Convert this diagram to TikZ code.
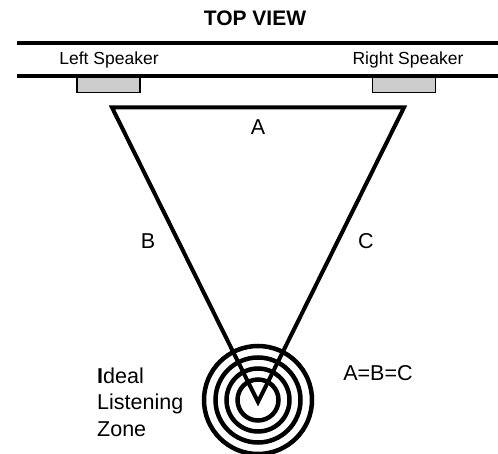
\documentclass[tikz,border=0pt]{standalone}
\usepackage{fontspec}
\setmainfont{Liberation Sans}
\begin{document}
\begin{tikzpicture}[x=1pt,y=-1pt,
  wall/.style={line width=4pt},
  spk/.style={draw=black,line width=1.8pt,fill=black!20,minimum width=63pt,minimum height=15pt,inner sep=0pt},
  leg/.style={line width=4pt,line join=miter},
  ring/.style={line width=4.5pt},
  lbl/.style={font=\fontsize{17.5}{20}\selectfont,inner sep=0pt},
  big/.style={font=\fontsize{21.5}{26.5}\selectfont,inner sep=0pt}]
\useasboundingbox (0,0) rectangle (498,454);
\node[font=\bfseries\fontsize{21}{24}\selectfont,inner sep=0pt] (title) at (255,18) {TOP VIEW};
\coordinate (w1a) at (17,43); \coordinate (w1b) at (500,43);
\coordinate (w2a) at (17,76.5); \coordinate (w2b) at (500,76.5);
\draw[wall] (w1a) -- (w1b);
\draw[wall] (w2a) -- (w2b);
\node[spk] (ls) at (108.5,85) {};
\node[spk] (rs) at (404,85) {};
\node[lbl] (lst) at (109,60) {Left Speaker};
\node[lbl] (rst) at (408,60) {Right Speaker};
\coordinate (tl) at (112,107.5);
\coordinate (tr) at (404,107.5);
\coordinate (ap) at (258,402);
\coordinate (zc) at (258,400);
\foreach \r in {54,42.5,31.5,20.5} \draw[ring] (zc) circle (\r);
\draw[leg] (tl) -- (tr) -- (ap) -- cycle;
\node[big] (la) at (258,127) {A};
\node[big] (lb) at (148,241) {B};
\node[big] (lc) at (366,241) {C};
\node[big] (eq) at (378,373) {A=B=C};
\node[big,align=left,anchor=west] (zone) at (97,402) {\textbf{I}deal\\Listening\\Zone};
\end{tikzpicture}
\end{document}
